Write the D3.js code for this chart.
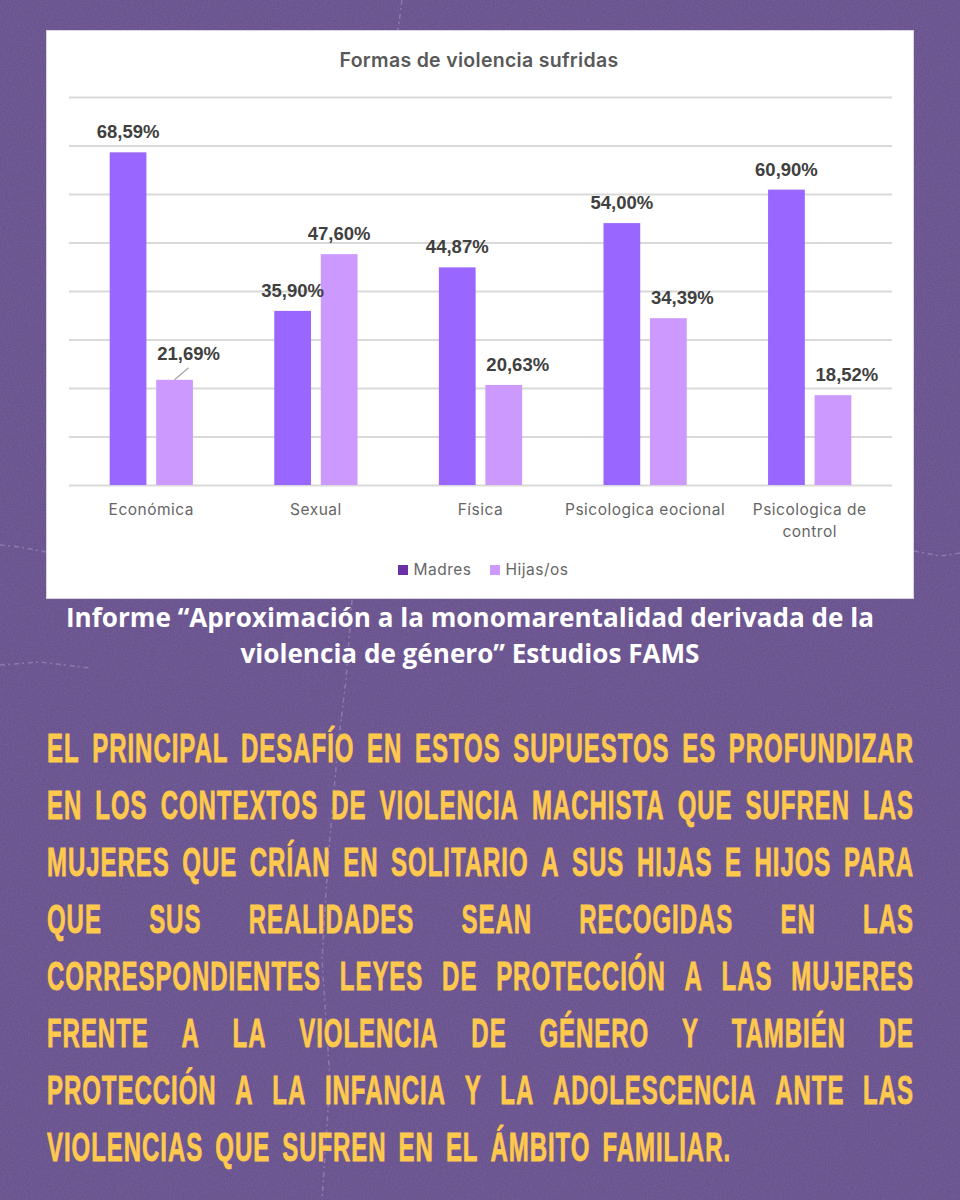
<!DOCTYPE html>
<html>
<head>
<meta charset="utf-8">
<script src="https://cdn.jsdelivr.net/npm/d3@7"></script>
<style>
  html, body { margin: 0; padding: 0; background: #67508d; }
  svg { display: block; }
</style>
</head>
<body>
<script>
//Data
const categories = ["Económica", "Sexual", "Física", "Psicologica eocional", "Psicologica de control"];
const madres = [68.59, 35.90, 44.87, 54.00, 60.90];
const hijas = [21.69, 47.60, 20.63, 34.39, 18.52];
const seriesNames = ["Madres", "Hijas/os"];
const yTicks = [0, 10, 20, 30, 40, 50, 60, 70, 80];
const chartTitle = "Formas de violencia sufridas";
const captionLines = [
  "Informe “Aproximación a la monomarentalidad derivada de la",
  "violencia de género” Estudios FAMS"
];
const bodyLines = [
  "EL PRINCIPAL DESAFÍO EN ESTOS SUPUESTOS ES PROFUNDIZAR",
  "EN LOS CONTEXTOS DE VIOLENCIA MACHISTA QUE SUFREN LAS",
  "MUJERES QUE CRÍAN EN SOLITARIO A SUS HIJAS E HIJOS PARA",
  "QUE SUS REALIDADES SEAN RECOGIDAS EN LAS",
  "CORRESPONDIENTES LEYES DE PROTECCIÓN A LAS MUJERES",
  "FRENTE A LA VIOLENCIA DE GÉNERO Y TAMBIÉN DE",
  "PROTECCIÓN A LA INFANCIA Y LA ADOLESCENCIA ANTE LAS",
  "VIOLENCIAS QUE SUFREN EN EL ÁMBITO FAMILIAR."
];

//Variables
const width = 960;
const height = 1200;
const barColors = ["#9966ff", "#cc99ff"];
const legendColors = ["#6b2fa8", "#cc99ff"];
const fmt = v => v.toFixed(2).replace(".", ",") + "%";

//Svg creation
const svg = d3.select("body").append("svg")
  .attr("width", width)
  .attr("height", height)
  .attr("viewBox", `0 0 ${width} ${height}`);

//Background with paper grain and creases
const filter = svg.append("defs").append("filter")
  .attr("id", "grain").attr("x", 0).attr("y", 0).attr("width", "100%").attr("height", "100%");
filter.append("feTurbulence").attr("type", "fractalNoise").attr("baseFrequency", 0.7).attr("numOctaves", 2).attr("seed", 4);
filter.append("feColorMatrix").attr("values", "0 0 0 0 1  0 0 0 0 1  0 0 0 0 1  0 0 0 0.12 -0.02");

svg.append("rect").attr("width", width).attr("height", height).attr("fill", "#67508d");
svg.append("rect").attr("width", width).attr("height", height).attr("filter", "url(#grain)");

const creases = [
  "M402,0 L398,30",
  "M352,600 L346,680 L338,745 L328,860 L322,960 L330,1080 L322,1200",
  "M0,545 L20,547 L46,552",
  "M914,551 L940,556 L960,553",
  "M0,665 L40,662 L90,668"
];
svg.selectAll("path.crease").data(creases).join("path")
  .attr("class", "crease")
  .attr("d", d => d)
  .attr("fill", "none")
  .attr("stroke", "#a99ac4")
  .attr("stroke-width", 1.6)
  .attr("stroke-dasharray", "5 3 2 4")
  .attr("opacity", 0.5);

//Chart card
svg.append("rect")
  .attr("x", 46.5).attr("y", 30.5).attr("width", 867).attr("height", 568)
  .attr("fill", "#ffffff")
  .attr("stroke", "#d8d2e4");

svg.append("text")
  .attr("x", 479).attr("y", 67)
  .attr("text-anchor", "middle")
  .style("font", "600 19.5px Inter, sans-serif")
  .style("letter-spacing", "0.3px")
  .attr("fill", "#595959")
  .text(chartTitle);

//Scales
const plot = { left: 69, right: 892, top: 97, bottom: 485 };
const x = d3.scaleBand().domain(categories).range([plot.left, plot.right]).paddingInner(0).paddingOuter(0);
const xSeries = d3.scaleBand().domain(seriesNames).range([0, x.bandwidth()]).paddingInner(0.21).paddingOuter(0.875);
const y = d3.scaleLinear().domain([0, 80]).range([plot.bottom, plot.top]);

//Grid
const grid = svg.append("g")
  .attr("transform", `translate(${plot.left},0)`)
  .call(d3.axisLeft(y).tickValues(yTicks).tickSize(-(plot.right - plot.left)).tickFormat(""));
grid.select(".domain").remove();
grid.selectAll("line").attr("stroke", "#d9d9d9").attr("stroke-width", 1.8);

//Bars
const rows = categories.map((c, i) => ({ c, values: [madres[i], hijas[i]], i }));
const groups = svg.selectAll("g.cat").data(rows).join("g")
  .attr("class", "cat")
  .attr("transform", d => `translate(${x(d.c)},0)`);

groups.selectAll("rect")
  .data(d => d.values.map((v, s) => ({ v, s })))
  .join("rect")
  .attr("x", d => xSeries(seriesNames[d.s]))
  .attr("y", d => y(d.v))
  .attr("width", xSeries.bandwidth())
  .attr("height", d => y(0) - y(d.v))
  .attr("fill", d => barColors[d.s]);

//Value labels, the shorter Hijas/os bars have theirs pushed right
groups.selectAll("text")
  .data(d => d.values.map((v, s) => ({ v, s, shift: s === 1 && d.values[1] < d.values[0] ? 14 : 0, first: d.i === 0 })))
  .join("text")
  .attr("x", d => xSeries(seriesNames[d.s]) + xSeries.bandwidth() / 2 + d.shift)
  .attr("y", d => y(d.v) - (d.first && d.s === 1 ? 19.5 : 14))
  .attr("text-anchor", "middle")
  .style("font", "bold 18.5px 'Liberation Sans', Arial, sans-serif")
  .attr("fill", "#404040")
  .text(d => fmt(d.v));

//Leader line for the first Hijas/os label
svg.append("line")
  .attr("x1", x(categories[0]) + xSeries(seriesNames[1]) + xSeries.bandwidth() / 2)
  .attr("y1", y(hijas[0]))
  .attr("x2", x(categories[0]) + xSeries(seriesNames[1]) + xSeries.bandwidth() / 2 + 14)
  .attr("y2", y(hijas[0]) - 12)
  .attr("stroke", "#a6a6a6")
  .attr("stroke-width", 1.2);

//Category axis
const xAxis = svg.append("g")
  .attr("transform", `translate(0,${plot.bottom})`)
  .call(d3.axisBottom(x).tickSize(0).tickPadding(0));
xAxis.select(".domain").remove();
xAxis.selectAll("text")
  .style("font", "400 15.5px Inter, sans-serif")
  .style("letter-spacing", "0.5px")
  .attr("fill", "#666666")
  .attr("dy", null)
  .attr("y", 29.5)
  .each(function(d) {
    const parts = d === "Psicologica de control" ? ["Psicologica de", "control"] : [d];
    d3.select(this).text(null).selectAll("tspan")
      .data(parts).join("tspan")
      .attr("x", 0)
      .attr("dy", (p, i) => i === 0 ? 0 : 22)
      .text(p => p);
  });

//Legend
const legend = svg.selectAll("g.legend").data(seriesNames).join("g")
  .attr("class", "legend")
  .attr("transform", (d, i) => `translate(${[398, 490][i]},565)`);
legend.append("rect")
  .attr("width", 10).attr("height", 10)
  .attr("fill", (d, i) => legendColors[i]);
legend.append("text")
  .attr("x", 15.5).attr("y", 10)
  .style("font", "400 15.5px Inter, sans-serif")
  .style("letter-spacing", "0.5px")
  .attr("fill", "#666666")
  .text(d => d);

//Caption
svg.selectAll("text.caption").data(captionLines).join("text")
  .attr("class", "caption")
  .attr("x", 470)
  .attr("y", (d, i) => 626.5 + i * 36.5)
  .attr("text-anchor", "middle")
  .style("font", "bold 26.1px 'Open Sans', sans-serif")
  .attr("fill", "#ffffff")
  .text(d => d);

//Justified body text, squeezed to look like a condensed display face
const bodyLeft = 47;
const bodyRight = 914;
const squeeze = 0.6;
bodyLines.forEach((line, li) => {
  const words = line.split(" ");
  const baseline = 762 + li * 57;
  const nodes = words.map(w => svg.append("text")
    .style("font", "bold 40px 'Liberation Sans Narrow', 'Liberation Sans', sans-serif")
    .style("letter-spacing", "1.6px")
    .attr("fill", "#ffc94d")
    .attr("stroke", "#ffc94d")
    .attr("stroke-width", 0.8)
    .text(w));
  const widths = nodes.map(n => n.node().getComputedTextLength() * squeeze);
  const total = d3.sum(widths);
  const last = li === bodyLines.length - 1;
  const gap = last ? 12 : (bodyRight - bodyLeft - total) / (words.length - 1);
  let cursor = bodyLeft;
  nodes.forEach((n, i) => {
    n.attr("transform", `translate(${cursor},${baseline}) scale(${squeeze},1)`);
    cursor += widths[i] + gap;
  });
});
</script>
</body>
</html>
